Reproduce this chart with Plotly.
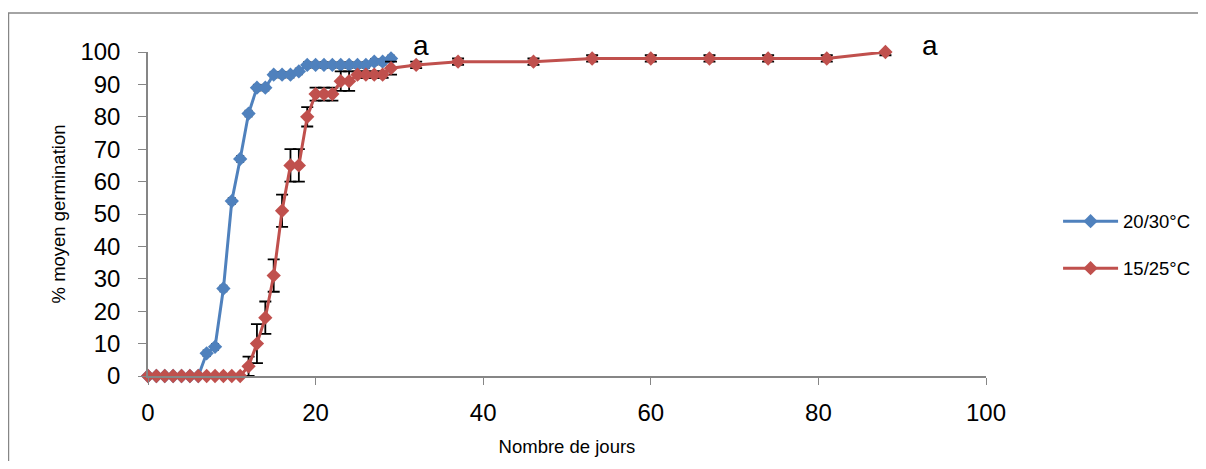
import plotly.graph_objects as go

# Data
days_blue = list(range(0, 30))
germ_blue = [0, 0, 0, 0, 0, 0, 0, 7, 9, 27, 54, 67, 81, 89, 89, 93, 93, 93, 94, 96,
             96, 96, 96, 96, 96, 96, 96, 97, 97, 98]
err_blue = [0, 0, 0, 0, 0, 0, 0, 1, 1, 1, 1, 1, 1, 1, 1, 1, 1, 1, 1, 1,
            1, 1, 1, 1, 1, 1, 1, 1, 1, 1]

days_red = list(range(0, 30)) + [32, 37, 46, 53, 60, 67, 74, 81, 88]
germ_red = [0, 0, 0, 0, 0, 0, 0, 0, 0, 0, 0, 0, 3, 10, 18, 31, 51, 65, 65, 80,
            87, 87, 87, 91, 91, 93, 93, 93, 93, 95, 96, 97, 97, 98, 98, 98, 98, 98, 100]
err_red = [0, 0, 0, 0, 0, 0, 0, 0, 0, 0, 0, 0, 3, 6, 5, 5, 5, 5, 5, 3,
           2, 2, 2, 3, 3, 1, 1, 1, 1, 2, 1, 1, 1, 1, 1, 1, 1, 1, 1]

name_blue = "20/30°C"
name_red = "15/25°C"
x_ticks = [0, 20, 40, 60, 80, 100]
y_ticks = list(range(0, 101, 10))
letters = [("a", 32.6), ("a", 93.3)]

BLUE = "#4F81BD"
RED = "#C0504D"
AXIS = "#868686"
FONT = "Liberation Sans"

fig = go.Figure()
fig.add_trace(go.Scatter(
    x=days_blue, y=germ_blue, name=name_blue, mode="lines+markers",
    line=dict(color=BLUE, width=3),
    marker=dict(symbol="diamond", size=11, color=BLUE),
    error_y=dict(type="data", array=err_blue, color="black", thickness=1, width=4),
    cliponaxis=False, legendgroup="b"))
fig.add_trace(go.Scatter(
    x=days_red, y=germ_red, name=name_red, mode="lines+markers",
    line=dict(color=RED, width=3),
    marker=dict(symbol="diamond", size=11, color=RED),
    error_y=dict(type="data", array=err_red, color="black", thickness=1.8, width=6),
    cliponaxis=False, legendgroup="r"))

for txt, xx in letters:
    fig.add_annotation(x=xx, xref="x", y=1.0216, yref="paper", text=txt,
                       showarrow=False, yanchor="middle",
                       font=dict(family=FONT, size=28, color="black"))

# outer chart border
fig.add_shape(type="rect", xref="paper", yref="paper",
              x0=-0.1665, x1=1.30, y0=-0.40, y1=1.1204,
              line=dict(color=AXIS, width=1.5), layer="below")

fig.update_layout(
    width=1190, height=453,
    margin=dict(l=140, r=212, t=44, b=85, autoexpand=False),
    paper_bgcolor="white", plot_bgcolor="white",
    font=dict(family=FONT, color="black"),
    showlegend=True,
    legend=dict(x=1.086, y=0.404, xanchor="left", yanchor="middle",
                font=dict(family=FONT, size=18.5), itemwidth=55,
                tracegroupgap=20, bgcolor="rgba(0,0,0,0)"),
    xaxis=dict(range=[0, 100], tickvals=x_ticks, showgrid=False, zeroline=False,
               showline=True, linecolor=AXIS, linewidth=1.5, ticks="outside",
               tickcolor=AXIS, ticklen=7, tickfont=dict(family=FONT, size=24),
               ticklabelstandoff=7, automargin=False,
               title=dict(text="Nombre de jours", font=dict(family=FONT, size=18.5), standoff=16)),
    yaxis=dict(range=[0, 100], tickvals=y_ticks, showgrid=False, zeroline=False,
               showline=True, linecolor=AXIS, linewidth=1.5, ticks="outside",
               tickcolor=AXIS, ticklen=8, tickfont=dict(family=FONT, size=24),
               ticklabelstandoff=13, automargin=False,
               title=dict(text="% moyen germination", font=dict(family=FONT, size=18.5), standoff=10)),
)

fig.write_html("out.html")
